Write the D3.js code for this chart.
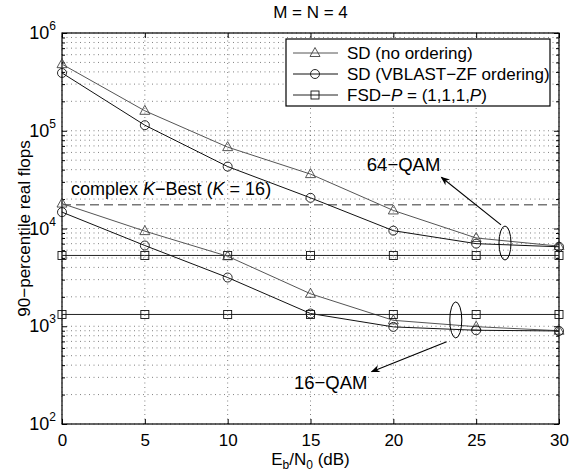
<!DOCTYPE html>
<html>
<head>
<meta charset="utf-8">
<script src="https://cdn.jsdelivr.net/npm/d3@7"></script>
<style>
body { margin: 0; background: #fff; }
text { font-family: "Liberation Sans", Arial, sans-serif; }
</style>
</head>
<body>
<div id="chart-area"></div>
<script>
// E_b/N_0 (dB)
var snr = [0, 5, 10, 15, 20, 25, 30];

// 64-QAM
var sd_noorder_64 = [480000, 160000, 68000, 36000, 15300, 8000, 6600];
var sd_vblast_64 = [390000, 114000, 43000, 20600, 9500, 7000, 6500];
var fsd_64 = [5300, 5300, 5300, 5300, 5300, 5300, 5300];

// 16-QAM
var sd_noorder_16 = [18000, 9400, 5200, 2150, 1150, 990, 900];
var sd_vblast_16 = [14700, 6700, 3150, 1350, 985, 910, 895];
var fsd_16 = [1320, 1320, 1320, 1320, 1320, 1320, 1320];

var kbest_level = 17500;

var xticks = [0, 5, 10, 15, 20, 25, 30];
var yticks = [2, 3, 4, 5, 6];

var width = 570, height = 472;
var margin = {left: 62, right: 11, top: 33, bottom: 48};

var svg = d3.select("#chart-area")
    .append("svg")
    .attr("width", width)
    .attr("height", height);

var x = d3.scaleLinear().domain([0, 30]).range([margin.left, width - margin.right]);
var y = d3.scaleLog().domain([100, 1e6]).range([height - margin.bottom, margin.top]);

var x0 = x.range()[0], x1 = x.range()[1];
var y0 = y.range()[0], y1 = y.range()[1];

// grid
var minor = [];
for (var e = 2; e < 6; e++) {
    for (var m = 1; m <= 9; m++) minor.push(m * Math.pow(10, e));
}
minor.push(1e6);

var grid = svg.append("g").attr("stroke", "#000").attr("stroke-width", 0.7)
    .attr("stroke-dasharray", "1,3.5").attr("opacity", 0.7);
minor.forEach(function(v) {
    grid.append("line").attr("x1", x0).attr("x2", x1).attr("y1", y(v)).attr("y2", y(v));
});
xticks.forEach(function(v) {
    grid.append("line").attr("x1", x(v)).attr("x2", x(v)).attr("y1", y0).attr("y2", y1);
});

// axes (ticks inside)
var axB = svg.append("g").attr("transform", "translate(0," + y0 + ")")
    .call(d3.axisBottom(x).tickValues(xticks).tickSizeInner(-5).tickSizeOuter(0).tickPadding(10));
var axT = svg.append("g").attr("transform", "translate(0," + y1 + ")")
    .call(d3.axisTop(x).tickValues(xticks).tickSizeInner(-5).tickSizeOuter(0).tickFormat(""));
var axL = svg.append("g").attr("transform", "translate(" + x0 + ",0)")
    .call(d3.axisLeft(y).tickValues(minor).tickSizeInner(-3).tickSizeOuter(0).tickFormat(""));
var axR = svg.append("g").attr("transform", "translate(" + x1 + ",0)")
    .call(d3.axisRight(y).tickValues(minor).tickSizeInner(-3).tickSizeOuter(0).tickFormat(""));
[axL, axR].forEach(function(a) {
    a.selectAll(".tick line").filter(function(d) { return Math.abs(Math.log10(d) % 1) < 1e-9; })
        .attr("x2", a === axL ? 5 : -5);
});
[axB, axT, axL, axR].forEach(function(a) {
    a.select(".domain").remove();
    a.selectAll(".tick line").attr("stroke", "#000");
});
axB.selectAll(".tick text").attr("font-size", "17px").attr("fill", "#000")
    .attr("font-family", "Liberation Sans, Arial, sans-serif");

svg.append("rect").attr("x", x0).attr("y", y1).attr("width", x1 - x0).attr("height", y0 - y1)
    .attr("fill", "none").attr("stroke", "#000").attr("stroke-width", 1.2);

// y tick labels 10^n
yticks.forEach(function(p) {
    var t = svg.append("text").attr("x", x0 - 6).attr("y", y(Math.pow(10, p)) + 6)
        .attr("text-anchor", "end").attr("font-size", "18px");
    t.append("tspan").text("10");
    t.append("tspan").attr("dy", -9).attr("font-size", "12px").text(p);
});

// title + axis labels
svg.append("text").attr("x", (x0 + x1) / 2).attr("y", 18).attr("text-anchor", "middle")
    .attr("font-size", "17px").text("M = N = 4");

var xl = svg.append("text").attr("x", (x0 + x1) / 2).attr("y", 465).attr("text-anchor", "middle")
    .attr("font-size", "17px");
xl.append("tspan").text("E");
xl.append("tspan").attr("font-size", "12px").attr("dy", 4).text("b");
xl.append("tspan").attr("dy", -4).text("/N");
xl.append("tspan").attr("font-size", "12px").attr("dy", 4).text("0");
xl.append("tspan").attr("dy", -4).text(" (dB)");

svg.append("text").attr("transform", "translate(30," + ((y0 + y1) / 2) + ") rotate(-90)")
    .attr("text-anchor", "middle").attr("font-size", "17px").text("90\u2212percentile real flops");

// K-best dashed line
svg.append("line").attr("x1", x0).attr("x2", x1).attr("y1", y(kbest_level)).attr("y2", y(kbest_level))
    .attr("stroke", "#777").attr("stroke-width", 1.6).attr("stroke-dasharray", "9,5");

var kb = svg.append("text").attr("x", 71).attr("y", y(kbest_level) - 10).attr("font-size", "18px");
kb.append("tspan").text("complex ");
kb.append("tspan").attr("font-style", "italic").text("K");
kb.append("tspan").text("\u2212Best (");
kb.append("tspan").attr("font-style", "italic").text("K");
kb.append("tspan").text(" = 16)");

// series
var series = [
    {vals: sd_noorder_64, mark: "tri", color: "#555"},
    {vals: sd_vblast_64, mark: "circ", color: "#111"},
    {vals: fsd_64, mark: "sq", color: "#222"},
    {vals: sd_noorder_16, mark: "tri", color: "#555"},
    {vals: sd_vblast_16, mark: "circ", color: "#111"},
    {vals: fsd_16, mark: "sq", color: "#222"}
];

var line = d3.line().x(function(d) { return x(d[0]); }).y(function(d) { return y(d[1]); });

function drawMarker(g, kind, cx, cy) {
    if (kind === "tri") {
        g.append("path").attr("d", "M" + cx + "," + (cy - 5.5) + "L" + (cx + 5) + "," + (cy + 3.5) +
            "L" + (cx - 5) + "," + (cy + 3.5) + "Z")
            .attr("fill", "none").attr("stroke", "#444").attr("stroke-width", 0.9);
    } else if (kind === "circ") {
        g.append("circle").attr("cx", cx).attr("cy", cy).attr("r", 4.5)
            .attr("fill", "none").attr("stroke", "#111").attr("stroke-width", 0.9);
    } else {
        g.append("rect").attr("x", cx - 4).attr("y", cy - 4).attr("width", 8).attr("height", 8)
            .attr("fill", "none").attr("stroke", "#111").attr("stroke-width", 0.9);
    }
}

series.forEach(function(s) {
    var pts = snr.map(function(v, i) { return [v, s.vals[i]]; });
    svg.append("path").attr("d", line(pts)).attr("fill", "none")
        .attr("stroke", s.color).attr("stroke-width", 1);
    var g = svg.append("g");
    pts.forEach(function(p) { drawMarker(g, s.mark, x(p[0]), y(p[1])); });
});

// annotations
var defs = svg.append("defs");
defs.append("marker").attr("id", "arr").attr("viewBox", "0 0 10 10").attr("refX", 9).attr("refY", 5)
    .attr("markerWidth", 12).attr("markerHeight", 9).attr("orient", "auto").attr("markerUnits", "userSpaceOnUse")
    .append("path").attr("d", "M0,1 L10,5 L0,9 L3,5 Z").attr("fill", "#000");

var ellipses = [
    {cx: 26.74, cy: 7100, ry: 17},
    {cx: 23.77, cy: 1160, ry: 18}
];
ellipses.forEach(function(el) {
    svg.append("ellipse").attr("cx", x(el.cx)).attr("cy", y(el.cy)).attr("rx", 6).attr("ry", el.ry)
        .attr("fill", "none").attr("stroke", "#000").attr("stroke-width", 1);
});

var arrows = [
    {from: [26.5, 10900], to: [22.9, 33400]},
    {from: [23.22, 695], to: [18.69, 343]}
];
arrows.forEach(function(a) {
    svg.append("line").attr("x1", x(a.from[0])).attr("y1", y(a.from[1]))
        .attr("x2", x(a.to[0])).attr("y2", y(a.to[1]))
        .attr("stroke", "#000").attr("stroke-width", 1.1).attr("marker-end", "url(#arr)");
});

var labels = [
    {x: 18.4, y: 39000, text: "64\u2212QAM"},
    {x: 14.0, y: 228, text: "16\u2212QAM"}
];
labels.forEach(function(l) {
    svg.append("text").attr("x", x(l.x)).attr("y", y(l.y)).attr("font-size", "18.5px").text(l.text);
});

// legend
var lg = svg.append("g");
lg.append("rect").attr("x", 286).attr("y", 39).attr("width", 264).attr("height", 67)
    .attr("fill", "#fff").attr("stroke", "#000").attr("stroke-width", 1.2);
var legItems = [
    {mark: "tri", color: "#555", parts: [["SD (no ordering)", false]]},
    {mark: "circ", color: "#111", parts: [["SD (VBLAST\u2212ZF ordering)", false]]},
    {mark: "sq", color: "#222", parts: [["FSD\u2212", false], ["P", true], [" = (1,1,1,", false], ["P", true], [")", false]]}
];
legItems.forEach(function(it, i) {
    var ly = 53 + i * 21;
    lg.append("line").attr("x1", 293).attr("x2", 338).attr("y1", ly).attr("y2", ly)
        .attr("stroke", it.color).attr("stroke-width", 1);
    drawMarker(lg, it.mark, 315, ly);
    var t = lg.append("text").attr("x", 347).attr("y", ly + 6).attr("font-size", "17px");
    it.parts.forEach(function(p) {
        var ts = t.append("tspan").text(p[0]);
        if (p[1]) ts.attr("font-style", "italic");
    });
});
</script>
</body>
</html>
